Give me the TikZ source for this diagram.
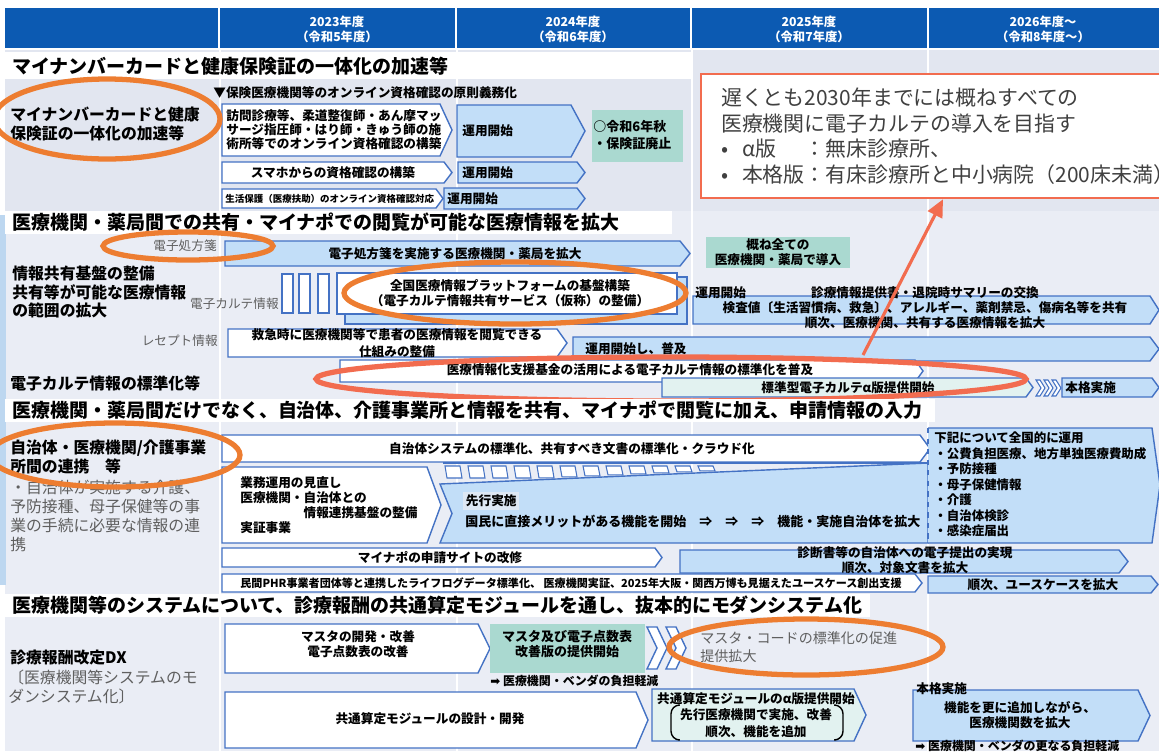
\documentclass[tikz,border=0pt]{standalone}
\usepackage{fontspec}
\setmainfont{Noto Sans CJK JP}
\newfontfamily\symfont{DejaVu Sans}
\usetikzlibrary{shapes.geometric}
\usetikzlibrary{arrows.meta}

\definecolor{hdrblue}{RGB}{12,90,178}
\definecolor{bgone}{RGB}{226,230,240}
\definecolor{bgtwo}{RGB}{234,237,245}
\definecolor{stripblue}{RGB}{189,215,240}
\definecolor{boxline}{RGB}{68,114,196}
\definecolor{boxblue}{RGB}{194,222,248}
\definecolor{tealone}{RGB}{170,217,208}
\definecolor{tealtwo}{RGB}{226,242,240}
\definecolor{ringorange}{RGB}{237,125,49}
\definecolor{coral}{RGB}{242,108,79}
\definecolor{txtgray}{RGB}{95,95,95}
\definecolor{calltext}{RGB}{64,64,64}
\definecolor{pilotbg}{RGB}{222,232,244}

\tikzset{
  yeartxt/.style={text=white, font=\bfseries\fontsize{7}{8.5}\selectfont, align=center, inner sep=0pt},
  heading/.style={font=\bfseries\fontsize{10.8}{13}\selectfont, anchor=west, inner sep=0pt},
  lefttxt/.style={font=\bfseries\fontsize{9}{10.5}\selectfont, align=left, anchor=west, inner sep=0pt},
  graytxt/.style={text=txtgray, font=\fontsize{9}{10.8}\selectfont, align=left, anchor=west, inner sep=0pt},
  sidetxt/.style={text=txtgray, font=\fontsize{7.2}{8.6}\selectfont, inner sep=0pt},
  boxtxt/.style={font=\bfseries\fontsize{7.2}{8.6}\selectfont, align=center, inner sep=0pt},
  wbox/.style={fill=white, draw=boxline, line width=0.8pt},
  bbox/.style={fill=boxblue, draw=boxline, line width=0.8pt},
  ltbox/.style={fill=tealtwo, draw=boxline, line width=0.8pt},
  ring/.style 2 args={draw=ringorange, line width=3pt, ellipse, inner sep=0pt,
    minimum width=#1*0.02cm, minimum height=#2*0.02cm},
  goalbox/.style={draw=coral, line width=1.3pt, fill=white, text=calltext,
    font=\fontsize{11.9}{14.5}\selectfont, align=left, text width=9.4cm,
    minimum height=2.48cm, inner xsep=0.4cm, inner ysep=0pt},
  pointer/.style={draw=coral, line width=1.8pt, -{Triangle[length=10pt,width=9pt]}}
}

% chevron: style, x1, y1, x2, y2, tip
\newcommand{\chevbox}[6]{%
  \path[#1] (#2,#3) -- ({#4-#6},#3) -- (#4,{(#3+#5)/2}) -- ({#4-#6},#5) -- (#2,#5) -- cycle;}

\begin{document}
\begin{tikzpicture}[x=0.02cm, y=-0.02cm]
\useasboundingbox (0,0) rectangle (1159,751);
\clip (0,0) rectangle (1159,751);

\fill[white] (0,0) rectangle (1159,751);
\fill[bgone] (5,50) rectangle (1159,211);
\fill[bgtwo] (5,211) rectangle (1159,751);
\fill[stripblue] (0,215) rectangle (6,585);
\foreach \cx in {220,457,692,928}
  \draw[white, line width=1.2pt] (\cx,50) -- (\cx,751);

% header
\fill[hdrblue] (5,8) rectangle (1159,48);
\foreach \cx in {219,456,691,928}
  \draw[white, line width=1.5pt] (\cx,8) -- (\cx,48);
\node[yeartxt] (y23) at (337,29) {2023年度\\（令和5年度）};
\node[yeartxt] (y24) at (573,29) {2024年度\\（令和6年度）};
\node[yeartxt] (y25) at (809,29) {2025年度\\（令和7年度）};
\node[yeartxt] (y26) at (1043,29) {2026年度～\\（令和8年度～）};

% section 1
\fill[white] (5,52) rectangle (692,79);
\node[heading] (h1) at (12,66) {マイナンバーカードと健康保険証の一体化の加速等};
\node[lefttxt] (lab1) at (10,124) {マイナンバーカードと健康\\保険証の一体化の加速等};
\node[boxtxt, anchor=west] (oblig) at (213,93) {▼保険医療機関等のオンライン資格確認の原則義務化};

\chevbox{wbox}{222}{104}{452}{156}{12}
\node[boxtxt, anchor=west, align=left, font=\bfseries\fontsize{7.2}{7.9}\selectfont] (visit) at (226,130)
  {訪問診療等、柔道整復師・あん摩マッ\\サージ指圧師・はり師・きゅう師の施\\術所等でのオンライン資格確認の構築};
\chevbox{bbox}{457}{105}{585}{157}{14}
\node[boxtxt, anchor=west] (run1) at (462,131) {運用開始};
\fill[tealone] (592,110) rectangle (683,162);
\node[boxtxt, anchor=west, align=left, font=\bfseries\fontsize{7.4}{9.6}\selectfont] (abolish) at (593,135) {○令和6年秋\\・保険証廃止};

\chevbox{wbox}{222}{162}{452}{183}{8}
\node[boxtxt] (phone) at (333,172.5) {スマホからの資格確認の構築};
\chevbox{bbox}{458}{162}{585}{183}{8}
\node[boxtxt, anchor=west] (run2) at (462,172.5) {運用開始};

\chevbox{wbox}{222}{189}{443}{208}{7}
\node[boxtxt, anchor=west, font=\bfseries\fontsize{5.4}{6.5}\selectfont] (welfare) at (225,198.5) {生活保護（医療扶助）のオンライン資格確認対応};
\chevbox{bbox}{444}{188}{585}{209}{8}
\node[boxtxt, anchor=west] (run3) at (447,198.5) {運用開始};

\node[ring={226}{80}] (e1) at (107,119) {};

% section 2
\fill[white] (5,211) rectangle (672,234);
\node[heading] (h2) at (12,222) {医療機関・薬局間での共有・マイナポでの閲覧が可能な医療情報を拡大};

\node[sidetxt, anchor=east] (rxlab) at (217,246) {電子処方箋};
\chevbox{bbox}{225}{241}{690}{266}{10}
\node[boxtxt] (rxspread) at (455,254) {電子処方箋を実施する医療機関・薬局を拡大};
\fill[tealone] (706,237) rectangle (850,268);
\node[boxtxt, font=\bfseries\fontsize{7.2}{8.5}\selectfont] (rxall) at (778,252.5) {概ね全ての\\医療機関・薬局で導入};

\node[lefttxt] (lab2) at (12,292) {情報共有基盤の整備\\共有等が可能な医療情報\\の範囲の拡大};
\node[sidetxt, anchor=east] (ehrlab) at (279,304) {電子カルテ情報};
\foreach \bx in {282,299,318}
  \draw[boxline, line width=1.2pt, fill=white] (\bx,274) rectangle ++(11,39);
\draw[bbox] (345,277) rectangle (687,324);
\draw[wbox] (337,273) rectangle (677,314);
\node[boxtxt] (platform) at (510,293) {全国医療情報プラットフォームの基盤構築\\（電子カルテ情報共有サービス（仮称）の整備）};

\chevbox{bbox}{693}{296}{1159}{324}{9}
\node[boxtxt, anchor=west] (start2) at (695,293) {運用開始};
\node[boxtxt, font=\bfseries\fontsize{7.2}{8.5}\selectfont] (share) at (925,308)
  {診療情報提供書・退院時サマリーの交換\\検査値〔生活習慣病、救急〕、アレルギー、薬剤禁忌、傷病名等を共有\\順次、医療機関、共有する医療情報を拡大};

\node[sidetxt, anchor=east] (rcptlab) at (218,341) {レセプト情報};
\chevbox{wbox}{228}{329}{567}{357}{10}
\node[boxtxt, font=\bfseries\fontsize{7.2}{10}\selectfont] (emerg) at (397,343) {救急時に医療機関等で患者の医療情報を閲覧できる\\仕組みの整備};
\chevbox{bbox}{573}{337}{1159}{361}{9}
\node[boxtxt, anchor=west] (spread) at (585,349) {運用開始し、普及};
\chevbox{wbox}{340}{360}{923}{382}{8}
\node[boxtxt] (fund) at (630,370) {医療情報化支援基金の活用による電子カルテ情報の標準化を普及};
\chevbox{ltbox}{662}{378}{1033}{397}{7}
\node[boxtxt] (alpha) at (848,387.5) {標準型電子カルテα版提供開始};
\foreach \i in {0,1,2}
  \path[wbox, line width=0.6pt] ({1036+\i*8},380) -- ++(4,0) -- ++(5,8) -- ++(-5,8) -- ++(-4,0) -- ++(5,-8) -- cycle;
\chevbox{bbox}{1062}{378}{1159}{397}{7}
\node[boxtxt, anchor=west] (full2) at (1065,387.5) {本格実施};
\node[lefttxt] (lab3) at (10,383) {電子カルテ情報の標準化等};

\node[ring={170}{28}] (e2) at (188,246) {};
\node[ring={342}{62}] (e3) at (515,293) {};
\node[ring={710}{44}, draw=coral] (e4) at (671,379) {};

% section 3
\fill[white] (5,399) rectangle (935,422);
\node[heading] (h3) at (12,410) {医療機関・薬局間だけでなく、自治体、介護事業所と情報を共有、マイナポで閲覧に加え、申請情報の入力};
\node[lefttxt] (lab4) at (10,457) {自治体・医療機関/介護事業\\所間の連携　等};
\node[graytxt] (lab4sub) at (10,516) {・自治体が実施する介護、\\予防接種、母子保健等の事\\業の手続に必要な情報の連\\携};

\chevbox{wbox}{222}{435}{930}{462}{10}
\node[boxtxt] (cloud) at (572,448.5) {自治体システムの標準化、共有すべき文書の標準化・クラウド化};
\chevbox{wbox}{222}{467}{441}{543}{14}
\node[boxtxt, anchor=west, align=left, font=\bfseries\fontsize{7.2}{8.5}\selectfont] (review) at (240,505)
  {業務運用の見直し\\医療機関・自治体との\\\hspace*{5em}情報連携基盤の整備\\実証事業};

\draw[boxline, line width=0.8pt] (443,463) -- (928,463);
\foreach \i in {0,...,11} {
  \pgfmathsetmacro\sx{445+\i*23}
  \pgfmathsetmacro\sb{min(478,482-(\sx-440)*21/488)}
  \path[wbox, line width=0.6pt] (\sx,466) -- ({\sx+15},466) -- ({\sx+17},\sb) -- ({\sx+2},\sb) -- cycle;
}
\path[bbox] (440,484) -- (928,463) -- (928,543) -- (440,543) -- (452,513.5) -- cycle;
\fill[boxblue] (928,428) -- (1152,428) -- (1160,485) -- (1152,543) -- (928,543) -- cycle;
\draw[boxline, line width=0.8pt] (928,428) -- (1152,428) -- (1160,485) -- (1152,543) -- (928,543);
\draw[boxline, line width=1pt, dashed] (928,428) -- (928,543);
\node[boxtxt, anchor=west, fill=pilotbg, inner sep=1.5pt] (pilot) at (463,501) {先行実施};
\node[boxtxt, anchor=west, font=\bfseries\fontsize{7.4}{9}\selectfont] (benefit) at (465,521)
  {国民に直接メリットがある機能を開始　⇒　⇒　⇒　機能・実施自治体を拡大};
\node[boxtxt, anchor=west, align=left, font=\bfseries\fontsize{7.1}{8.8}\selectfont] (nation) at (934,484.5)
  {下記について全国的に運用\\・公費負担医療、地方単独医療費助成\\・予防接種\\・母子保健情報\\・介護\\・自治体検診\\・感染症届出};

\chevbox{wbox}{222}{548}{662}{567}{7}
\node[boxtxt] (portal) at (440,557.5) {マイナポの申請サイトの改修};
\chevbox{bbox}{680}{550}{1128}{573}{9}
\node[boxtxt, font=\bfseries\fontsize{7.2}{8.5}\selectfont] (cert) at (905,560) {診断書等の自治体への電子提出の実現\\順次、対象文書を拡大};
\chevbox{wbox}{222}{574}{922}{592}{7}
\node[boxtxt, font=\bfseries\fontsize{6.3}{7.5}\selectfont] (phr) at (571,583)
  {民間PHR事業者団体等と連携したライフログデータ標準化、 医療機関実証、2025年大阪・関西万博も見据えたユースケース創出支援};
\chevbox{bbox}{928}{576}{1158}{593}{7}
\node[boxtxt] (usecase) at (1043,584.5) {順次、ユースケースを拡大};

\node[ring={250}{64}] (e5) at (115,455) {};

% section 4
\fill[white] (5,594) rectangle (870,617);
\node[heading] (h4) at (12,605) {医療機関等のシステムについて、診療報酬の共通算定モジュールを通し、抜本的にモダンシステム化};
\node[lefttxt] (lab5) at (10,658) {診療報酬改定DX};
\node[graytxt] (lab5sub) at (8,687) {〔医療機関等システムのモ\\ダンシステム化〕};

\chevbox{wbox}{225}{624}{490}{673}{12}
\node[boxtxt] (master) at (358,644) {マスタの開発・改善\\電子点数表の改善};
\fill[tealone] (490,624) rectangle (645,673);
\node[boxtxt, font=\bfseries\fontsize{7.4}{9}\selectfont] (mrel) at (567,644) {マスタ及び電子点数表\\改善版の提供開始};
\foreach \i in {0,1}
  \path[wbox] ({647+\i*19},627) -- ++(10,0) -- ++(10,21) -- ++(-10,21) -- ++(-10,0) -- ++(10,-21) -- cycle;
\node[sidetxt, anchor=west, align=left, font=\fontsize{8}{10}\selectfont] (code) at (700,647) {マスタ・コードの標準化の促進\\提供拡大};
\node[boxtxt, anchor=west, font=\bfseries\fontsize{6.8}{8}\selectfont] (relief) at (490,681) {{\symfont ➡} 医療機関・ベンダの負担軽減};

\chevbox{wbox}{225}{692}{648}{748}{12}
\node[boxtxt] (calc) at (430,719) {共通算定モジュールの設計・開発};
\chevbox{ltbox}{652}{689}{866}{741}{12}
\node[boxtxt, font=\bfseries\fontsize{7.2}{9.3}\selectfont] (alphamod) at (756,715) {共通算定モジュールのα版提供開始\\先行医療機関で実施、改善\\順次、機能を追加};
\draw[line width=0.8pt, rounded corners=5pt] (678,705) -- (671,705) -- (671,740) -- (678,740);
\draw[line width=0.8pt, rounded corners=5pt] (836,705) -- (843,705) -- (843,740) -- (836,740);
\chevbox{bbox}{913}{690}{1150}{741}{12}
\node[boxtxt, anchor=west] (full4) at (916,689) {本格実施};
\node[boxtxt] (expand) at (1020,715) {機能を更に追加しながら、\\医療機関数を拡大};
\node[boxtxt, anchor=west, font=\bfseries\fontsize{6.8}{8}\selectfont] (relief2) at (915,746) {{\symfont ➡} 医療機関・ベンダの更なる負担軽減};

\node[ring={274}{56}] (e6) at (806,647) {};

% goal
\node[goalbox, anchor=north west] (goal) at (700,73)
  {遅くとも2030年までには概ねすべての\\医療機関に電子カルテの導入を目指す\\
   \makebox[1em][l]{•}\makebox[3em][l]{α版}：無床診療所、\\
   \makebox[1em][l]{•}本格版：有床診療所と中小病院（200床未満）};
\coordinate (arrS) at (863,355);
\coordinate (arrE) at (943,0);
\draw[pointer] (arrS) -- (goal.south -| arrE);

\end{tikzpicture}
\end{document}
